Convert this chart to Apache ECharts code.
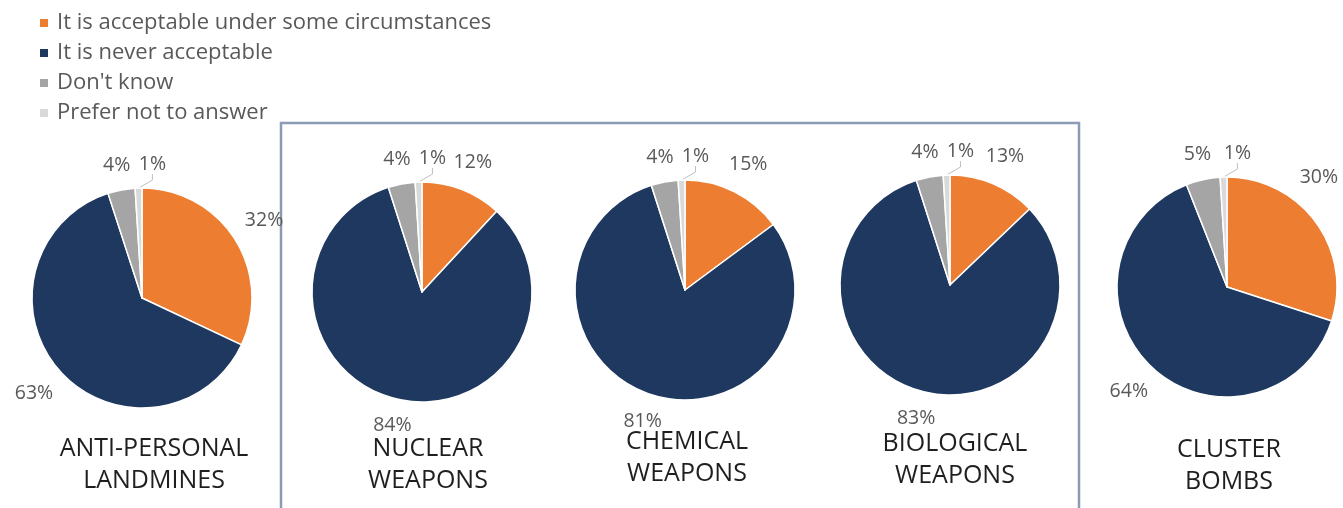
<!DOCTYPE html>
<html>
<head>
<meta charset="utf-8">
<script src="https://cdn.jsdelivr.net/npm/echarts@6/dist/echarts.min.js"></script>
<style>
html,body{margin:0;padding:0;background:#fff;}
#chart{width:1343px;height:508px;}
</style>
</head>
<body>
<div id="chart"></div>
<script>
// ---- data ----
var answers = ['It is acceptable under some circumstances', 'It is never acceptable', "Don't know", 'Prefer not to answer'];
var weapons = ['ANTI-PERSONAL\nLANDMINES', 'NUCLEAR\nWEAPONS', 'CHEMICAL\nWEAPONS', 'BIOLOGICAL\nWEAPONS', 'CLUSTER\nBOMBS'];
var landmines  = [32, 63, 4, 1];
var nuclear    = [12, 84, 4, 1];
var chemical   = [15, 81, 4, 1];
var biological = [13, 83, 4, 1];
var cluster    = [30, 64, 5, 1];
var values = [landmines, nuclear, chemical, biological, cluster];

// ---- styling / layout ----
var colors = ['#ED7D31', '#1E3860', '#A5A5A5', '#D9D9D9'];
var centers = [[142, 298], [422, 292], [685, 290], [950, 285], [1227, 287]];
var RADIUS = 110;
var titlePos = [[154, 465], [428, 465], [687, 458], [955, 460], [1229, 466]];
var FONT = '"Open Sans", "Noto Sans", sans-serif';
var WIDTH = 1343;

var chart = echarts.init(document.getElementById('chart'), null, {renderer: 'canvas'});

function labelLayout(p) {
  var pts = p.labelLinePoints;
  if (!pts) return {};
  var x0 = pts[0][0], y0 = pts[0][1];
  var dx = pts[1][0] - x0, dy = pts[1][1] - y0;
  var len = Math.sqrt(dx * dx + dy * dy) || 1;
  dx /= len; dy /= len;
  var w = p.labelRect.width, h = p.labelRect.height;
  if (p.dataIndex === 3) {
    var dt = 24;
    return {x: x0 + dx * dt + 1, y: y0 + dy * dt, align: 'left', verticalAlign: 'middle'};
  }
  // pie centre recovered from the label-line geometry
  var cx = x0 - dx * RADIUS, cy = y0 - dy * RADIUS;
  var ang = Math.atan2(dy, dx);
  var x, y, d;
  for (var k = 0; k < 60; k++) {
    var ux = Math.cos(ang), uy = Math.sin(ang);
    d = RADIUS + 13 + Math.abs(ux) * w / 2 + Math.abs(uy) * h / 2;
    x = cx + ux * d; y = cy + uy * d;
    if (x + w / 2 <= WIDTH - 3) break;
    ang -= Math.PI / 180; // rotate upwards to stay inside the canvas
  }
  return {x: x, y: y, align: 'center', verticalAlign: 'middle'};
}

var series = values.map(function (vals, si) {
  return {
    type: 'pie',
    name: weapons[si].replace('\n', ' '),
    center: centers[si],
    radius: RADIUS,
    startAngle: 90,
    clockwise: true,
    avoidLabelOverlap: false,
    animation: false,
    itemStyle: {borderColor: '#ffffff', borderWidth: 1.5},
    label: {
      show: true, position: 'outside', formatter: '{c}%',
      color: '#595959', fontSize: 19.5, fontFamily: FONT
    },
    labelLine: {show: true, length: 10, length2: 6, lineStyle: {color: 'rgba(0,0,0,0)', width: 1}},
    labelLayout: labelLayout,
    emphasis: {disabled: true},
    data: vals.map(function (v, i) {
      var item = {name: answers[i], value: v, itemStyle: {color: colors[i]}};
      if (i === 3) item.labelLine = {lineStyle: {color: '#BFBFBF', width: 1}};
      return item;
    })
  };
});

var graphics = [{
  type: 'rect',
  shape: {x: 281, y: 123, width: 798, height: 420},
  style: {fill: 'none', stroke: '#8A9BB4', lineWidth: 2.5},
  silent: true
}];
weapons.forEach(function (w, i) {
  graphics.push({
    type: 'text',
    x: titlePos[i][0], y: titlePos[i][1],
    style: {
      text: w, align: 'center', verticalAlign: 'middle',
      font: '25px ' + FONT, fill: '#1F1F1F', lineHeight: 32
    },
    silent: true
  });
});

chart.setOption({
  backgroundColor: '#ffffff',
  animation: false,
  legend: {
    data: answers,
    orient: 'vertical',
    left: 33, top: 7,
    itemWidth: 10, itemHeight: 10,
    itemGap: 8,
    icon: 'rect',
    selectedMode: false,
    textStyle: {color: '#595959', fontSize: 22, fontFamily: FONT, padding: [0, 0, 0, 3]}
  },
  graphic: graphics,
  series: series
});
</script>
</body>
</html>
